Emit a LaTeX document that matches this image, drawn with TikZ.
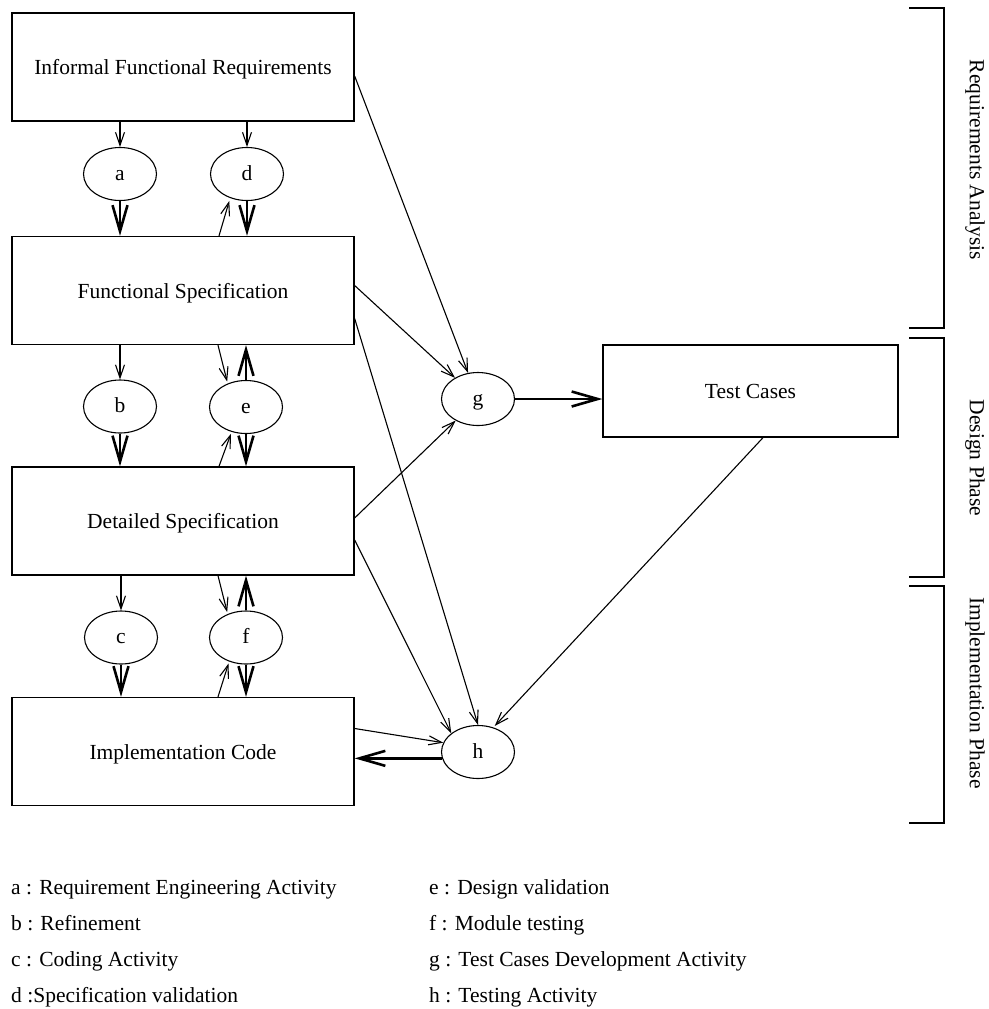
\documentclass[tikz,border=0pt]{standalone}
\usepackage{fontspec}
\setmainfont{Liberation Serif}
\usetikzlibrary{arrows.meta,shapes.geometric,calc}

\begin{document}
\begin{tikzpicture}[x=1pt,y=-1pt,
  txt/.style={font=\fontsize{21.5}{26}\selectfont},
  box/.style={draw, line width=1.3pt, minimum width=342pt, minimum height=108pt, inner sep=0pt,
    text height=15pt, text depth=0pt, txt},
  act/.style={draw, ellipse, line width=1.1pt, minimum width=73pt, minimum height=53pt, inner sep=0pt,
    text height=12pt, text depth=0pt, txt},
  lightarr/.style={line width=1.1pt, -{Straight Barb[length=13pt,width=9pt]}},
  heavyarr/.style={line width=2.6pt, -{Straight Barb[length=26pt,width=15pt]}},
  bracket/.style={line width=1.8pt},
  phase/.style={rotate=-90, txt},
  legend/.style={anchor=base west, inner sep=0pt, txt}]

\useasboundingbox (0,0) rectangle (988,1009);

% artefacts
\node[box] (ifr) at (183,67) {Informal Functional Requirements};
\node[box] (fs) at (183,290.5) {Functional Specification};
\node[box] (ds) at (183,521) {Detailed Specification};
\node[box] (ic) at (183,751.5) {Implementation Code};
\node[box, minimum width=295pt, minimum height=92pt] (tc) at (750.5,391) {Test Cases};

% activities
\node[act] (a) at (120,174) {a};
\node[act] (d) at (247,174) {d};
\node[act] (b) at (120,406.5) {b};
\node[act] (e) at (246,407) {e};
\node[act] (c) at (121,637.5) {c};
\node[act] (f) at (246,637.5) {f};
\node[act] (g) at (478,399) {g};
\node[act] (h) at (478,752) {h};

% refinement chain
\draw[lightarr] (a |- ifr.south) -- (a);
\draw[heavyarr] (a) -- (a |- fs.north);
\draw[lightarr] (b |- fs.south) -- (b);
\draw[heavyarr] (b) -- (b |- ds.north);
\draw[lightarr] (c |- ds.south) -- (c);
\draw[heavyarr] (c) -- (c |- ic.north);

% validation loops
\draw[lightarr] (d |- ifr.south) -- (d);
\draw[heavyarr] (d) -- (d |- fs.north);
\draw[lightarr, shorten >=3pt] ($(d |- fs.north)+(-28,0)$) -- (d.-125);

\draw[lightarr, shorten >=2pt] ($(e |- fs.south)+(-28,0)$) -- (e.128);
\draw[heavyarr] (e) -- (e |- fs.south);
\draw[heavyarr] (e) -- (e |- ds.north);
\draw[lightarr, shorten >=2pt] ($(e |- ds.north)+(-27,0)$) -- (e.-120);

\draw[lightarr, shorten >=2pt] ($(f |- ds.south)+(-28,0)$) -- (f.128);
\draw[heavyarr] (f) -- (f |- ds.south);
\draw[heavyarr] (f) -- (f |- ic.north);
\draw[lightarr, shorten >=2pt] ($(f |- ic.north)+(-28,0)$) -- (f.-125);

% test case development
\draw[lightarr] ([yshift=-9pt]ifr.east) -- (g);
\draw[lightarr] ([yshift=5pt]fs.east) -- (g);
\draw[lightarr] ([yshift=3pt]ds.east) -- (g);
\draw[heavyarr] (g) -- (g -| tc.west);

% testing
\draw[lightarr] ([yshift=-28pt]fs.east) -- (h.north);
\draw[lightarr] ([yshift=-19pt]ds.east) -- (h.145);
\draw[lightarr] ([yshift=23pt]ic.east) -- (h.165);
\draw[lightarr, shorten >=2pt] ([xshift=12.5pt]tc.south) -- (h.58);
\draw[heavyarr] (h.190) -- (h.190 -| ic.east);

% phase brackets
\draw[bracket] (909,8) -- (944,8) -- (944,328) -- (909,328);
\draw[bracket] (909,338) -- (944,338) -- (944,577) -- (909,577);
\draw[bracket] (909,586) -- (944,586) -- (944,823) -- (909,823);
\node[phase] (ra) at (975,160) {Requirements Analysis};
\node[phase] (dp) at (975,458) {Design Phase};
\node[phase] (ip) at (975,693) {Implementation Phase};

% legend
\node[legend] (la) at (11,894) {a : Requirement Engineering Activity};
\node[legend] (lb) at (11,930) {b : Refinement};
\node[legend] (lc) at (11,966) {c : Coding Activity};
\node[legend] (ld) at (11,1002) {d :Specification validation};
\node[legend] (le) at (429,894) {e : Design validation};
\node[legend] (lf) at (429,930) {f : Module testing};
\node[legend] (lg) at (429,966) {g : Test Cases Development Activity};
\node[legend] (lh) at (429,1002) {h : Testing Activity};
\end{tikzpicture}
\end{document}
